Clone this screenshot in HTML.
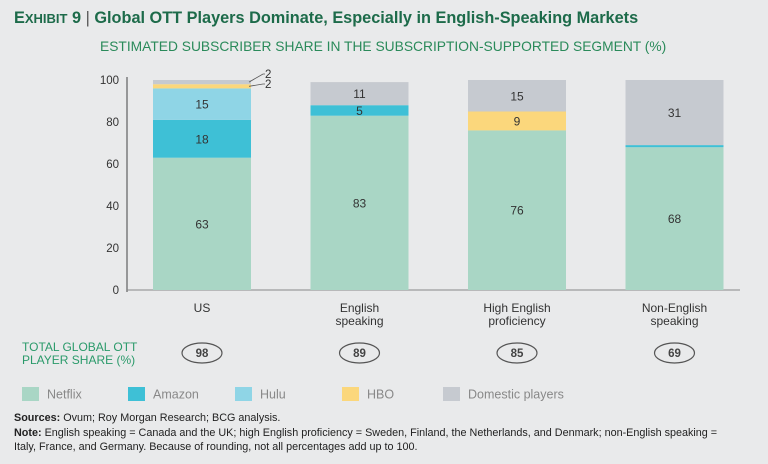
<!DOCTYPE html>
<html><head><meta charset="utf-8"><style>
body{margin:0;background:#e9eaeb;}
#c{position:relative;width:768px;height:464px;background:#e9eaeb;font-family:"Liberation Sans",sans-serif;overflow:hidden}
.t{position:absolute;white-space:nowrap}
</style></head><body>
<div id="c">
<div class="t" style="left:14px;top:9px;font-size:16.3px;font-weight:bold;color:#1d6b4a">E<span style="font-size:13px">XHIBIT</span> 9 <span style="font-weight:normal;color:#555">|</span> Global OTT Players Dominate, Especially in English-Speaking Markets</div>
<div class="t" style="left:100px;top:39px;font-size:13.8px;color:#2a8a5a">ESTIMATED SUBSCRIBER SHARE IN THE SUBSCRIPTION-SUPPORTED SEGMENT (%)</div>
<svg id="s" width="768" height="464" style="position:absolute;left:0;top:0"></svg>
<div class="t" style="left:22px;top:341px;font-size:12px;line-height:13px;color:#2a9a6a">TOTAL GLOBAL OTT<br>PLAYER SHARE (%)</div>
<div class="t" style="left:14px;top:411px;font-size:10.8px;line-height:14.5px;color:#222">
<b>Sources:</b> Ovum; Roy Morgan Research; BCG analysis.<br>
<b>Note:</b> English speaking = Canada and the UK; high English proficiency = Sweden, Finland, the Netherlands, and Denmark; non-English speaking =<br>Italy, France, and Germany. Because of rounding, not all percentages add up to 100.</div>
</div>
<script>
const categories=["US","English|speaking","High English|proficiency","Non-English|speaking"];
const seriesNames=["Netflix","Amazon","Hulu","HBO","Domestic players"];
const netflix=[63,83,76,68];
const amazon=[18,5,0,1];
const hulu=[15,0,0,0];
const hbo=[2,0,9,0];
const domestic=[2,11,15,31];
const totals=[98,89,85,69];
const yTicks=[0,20,40,60,80,100];
const colors=["#a9d6c5","#3ec0d6","#8fd5e6","#fbd77c","#c6cad0"];
const series=[netflix,amazon,hulu,hbo,domestic];
const NS="http://www.w3.org/2000/svg";
const s=document.getElementById('s');
const y=v=>290-v*2.1;
const bx=i=>153+i*157.5;
const BW=98;
function mk(t,a){const e=document.createElementNS(NS,t);for(const k in a)e.setAttribute(k,a[k]);s.appendChild(e);return e;}
let ax=mk('line',{x1:127,x2:127,y1:y(0)+2,y2:y(100)-3,stroke:'#444','stroke-width':1});


let bl=mk('line',{x1:127,x2:740,y1:y(0),y2:y(0),stroke:'#888','stroke-width':1});


yTicks.forEach(v=>{const t=mk('text',{x:119,y:y(v)+4,'text-anchor':'end','font-size':11.5,fill:'#333'});t.textContent=v;

});
categories.forEach((c,i)=>{
 let base=0;
 series.forEach((ser,k)=>{
  const v=ser[i]; if(!v) return;
  const r=mk('rect',{x:bx(i),y:y(base+v),width:BW,height:v*2.1,fill:colors[k]});
  
  
  if(v>=5){const t=mk('text',{x:bx(i)+BW/2,y:y(base+v/2)+4.5,'text-anchor':'middle','font-size':12,fill:'#333'});t.textContent=v;
   
   }
  else if(v>=2){const ly=y(base+v/2);const lx=bx(i)+BW;const ty=k==4?y(100)-3:y(100)+7;
   mk('polyline',{points:`${lx-2},${ly} ${lx+12},${ty-3} ${lx+14},${ty-3}`,fill:'none',stroke:'#555','stroke-width':0.8});
   const t=mk('text',{x:lx+14,y:ty+1,'font-size':11.5,fill:'#333'});t.textContent=v;
   
   }
  base+=v;
 });
 c.split('|').forEach((ln,j)=>{const t=mk('text',{x:bx(i)+BW/2,y:312+j*13,'text-anchor':'middle','font-size':12,fill:'#333'});t.textContent=ln;
  
  });
 const e=mk('ellipse',{cx:bx(i)+BW/2,cy:353,rx:20,ry:10,fill:'none',stroke:'#555','stroke-width':1.2});
 
 
 const t=mk('text',{x:bx(i)+BW/2,y:357,'text-anchor':'middle','font-size':11.5,'font-weight':'bold',fill:'#444'});t.textContent=totals[i];
 
 
});
const lx=[22,128,235,342,443];
seriesNames.forEach((n,k)=>{
 const r=mk('rect',{x:lx[k],y:387,width:17,height:14,fill:colors[k]});
 
 
 const t=mk('text',{x:lx[k]+25,y:398.5,'font-size':12.5,fill:'#888'});t.textContent=n;
 
 
});
</script>
</body></html>
